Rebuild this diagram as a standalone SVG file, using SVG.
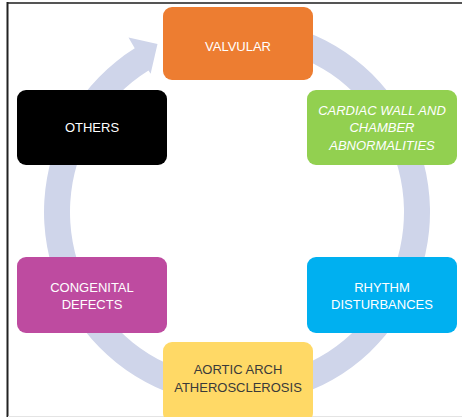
<svg xmlns="http://www.w3.org/2000/svg" width="462" height="417" viewBox="0 0 462 417">
  <style>
    .box { stroke: none; }
    .lbl { font-family: "Liberation Sans", Arial, sans-serif; font-size: 13px; text-anchor: middle; fill: #ffffff; }
    .dark { fill: #3a3a3a; }
    .ital { font-style: italic; }
  </style>
  <rect x="0" y="0" width="462" height="417" fill="#ffffff"/>
  <!-- frame -->
  <line x1="7" y1="3" x2="462" y2="3" stroke="#555555" stroke-width="2"/>
  <line x1="7.5" y1="2" x2="7.5" y2="417" stroke="#222222" stroke-width="2"/>
  <line x1="8" y1="416.5" x2="462" y2="416.5" stroke="#e4e4e4" stroke-width="1"/>

  <g id="connectors">
    <path d="M 237 19 A 193 193 0 1 1 134.73 48.33 L 128.5 37.5 L 157.5 44 L 150.62 73.77 L 148.50 70.38 A 167 167 0 1 0 237 45 Z" fill="#CFD5EA"/>
  </g>

  <g id="valvular">
    <rect class="box" x="163" y="7" width="150" height="73" rx="9" fill="#ED7D31"/>
    <text class="lbl" x="238" y="51">VALVULAR</text>
  </g>
  <g id="cardiac">
    <rect class="box" x="307" y="90" width="150" height="75" rx="9" fill="#92D050"/>
    <text class="lbl ital" x="382" y="115">CARDIAC WALL AND</text>
    <text class="lbl ital" x="382" y="132">CHAMBER</text>
    <text class="lbl ital" x="382" y="150">ABNORMALITIES</text>
  </g>
  <g id="others">
    <rect class="box" x="17" y="90" width="150" height="75" rx="9" fill="#000000"/>
    <text class="lbl" x="92" y="132">OTHERS</text>
  </g>
  <g id="congenital">
    <rect class="box" x="17" y="257" width="150" height="76" rx="9" fill="#BE4BA0"/>
    <text class="lbl" x="92" y="292">CONGENITAL</text>
    <text class="lbl" x="92" y="309">DEFECTS</text>
  </g>
  <g id="rhythm">
    <rect class="box" x="307" y="257" width="150" height="76" rx="9" fill="#00B0F0"/>
    <text class="lbl" x="382" y="292">RHYTHM</text>
    <text class="lbl" x="382" y="309">DISTURBANCES</text>
  </g>
  <g id="aortic">
    <rect class="box" x="163" y="342" width="150" height="80" rx="9" fill="#FFD966"/>
    <text class="lbl dark" x="238" y="374">AORTIC ARCH</text>
    <text class="lbl dark" x="238" y="392">ATHEROSCLEROSIS</text>
  </g>
</svg>
